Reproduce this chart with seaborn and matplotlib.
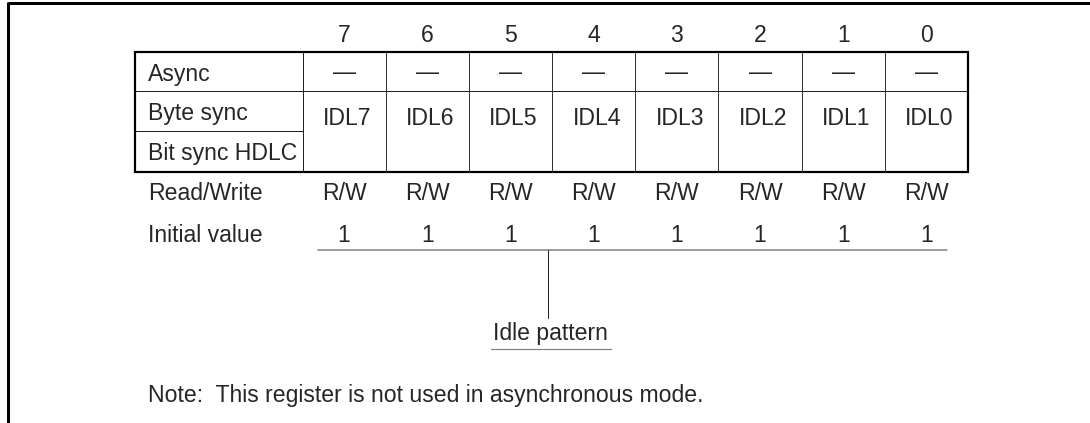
import matplotlib
matplotlib.use("Agg")
import matplotlib.pyplot as plt
import seaborn as sns

# ---- data ----
bits = [7, 6, 5, 4, 3, 2, 1, 0]
bit_names = ["IDL7", "IDL6", "IDL5", "IDL4", "IDL3", "IDL2", "IDL1", "IDL0"]
row_labels = ["Async", "Byte sync", "Bit sync HDLC"]
async_vals = ["\u2014"] * 8
rw_vals = ["R/W"] * 8
init_vals = ["1", "1", "1", "1", "1", "1", "1", "1"]
field_label = "Idle pattern"
note_text = "Note:  This register is not used in asynchronous mode."

sns.set_theme(style="white")
plt.rcParams["font.family"] = ["Liberation Sans", "DejaVu Sans"]

W, H, DPI = 1090, 423, 100
fig = plt.figure(figsize=(W / DPI, H / DPI), dpi=DPI)
ax = fig.add_axes([0, 0, 1, 1])
ax.set_xlim(0, W)
ax.set_ylim(H, 0)
ax.axis("off")

FS = 16.6
px = 72.0 / DPI  # points per pixel

# layout
tab_l, lab_w = 135, 167.5
col_l = tab_l + lab_w
col_w = (968 - col_l) / len(bits)
y_top, y_r1, y_r2, y_bot = 52, 91.5, 131.5, 172

def cx(i):
    return col_l + col_w * (i + 0.5)

# outer frame (top and left only)
ax.plot([7.5, W], [3.5, 3.5], color="black", lw=3 * px, solid_capstyle="butt")
ax.plot([7.5, 7.5], [2, H], color="black", lw=3 * px, solid_capstyle="butt")

# table grid
ax.plot([tab_l, 968], [y_r1, y_r1], color="#222222", lw=1 * px)
ax.plot([tab_l, col_l], [y_r2, y_r2], color="#222222", lw=1 * px)
for i in range(1, len(bits)):
    x = col_l + col_w * i
    ax.plot([x, x], [y_top, y_bot], color="#333333", lw=1 * px)
ax.plot([col_l, col_l], [y_top, y_bot], color="#222222", lw=1 * px)
ax.add_patch(plt.Rectangle((tab_l, y_top), 968 - tab_l, y_bot - y_top,
                           fill=False, edgecolor="black", lw=2.2 * px))

# bit numbers
for i, b in enumerate(bits):
    ax.text(cx(i), 42, str(b), ha="center", va="baseline", fontsize=FS)

# row labels
for lab, yb in zip(row_labels, [81.5, 120, 160]):
    ax.text(148, yb, lab, ha="left", va="baseline", fontsize=FS)

# cell contents
for i in range(len(bits)):
    ax.text(cx(i), 79, async_vals[i], ha="center", va="baseline", fontsize=FS)
    ax.text(cx(i) + 3, 125, bit_names[i], ha="center", va="baseline", fontsize=FS)
    ax.text(cx(i), 200, rw_vals[i], ha="center", va="baseline", fontsize=FS)
    ax.text(cx(i), 242, init_vals[i], ha="center", va="baseline", fontsize=FS)

ax.text(148, 200, "Read/Write", ha="left", va="baseline", fontsize=FS)
ax.text(148, 242, "Initial value", ha="left", va="baseline", fontsize=FS)

# field bracket
ax.plot([318, 947], [250, 250], color="#7f7f7f", lw=1.5 * px)
ax.plot([548, 548], [250, 318], color="#222222", lw=1 * px)
ax.text(550, 340, field_label, ha="center", va="baseline", fontsize=FS)
ax.plot([491, 611], [349, 349], color="#7f7f7f", lw=1.2 * px)

# note
ax.text(148, 402, note_text, ha="left", va="baseline", fontsize=FS)

fig.savefig("out.png", dpi=DPI, facecolor="white")
